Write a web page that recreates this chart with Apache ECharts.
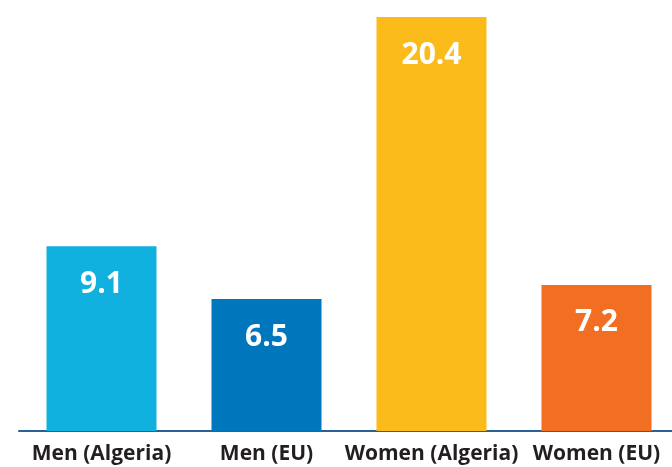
<!DOCTYPE html>
<html>
<head>
<meta charset="utf-8">
<script src="https://cdn.jsdelivr.net/npm/echarts@6/dist/echarts.min.js"></script>
<style>
  html, body { margin: 0; padding: 0; background: #fff; overflow: hidden; }
  #main { width: 680px; height: 467px; }
</style>
</head>
<body>
<div id="main"></div>
<script>
var categories = ['Men (Algeria)', 'Men (EU)', 'Women (Algeria)', 'Women (EU)'];
var values = [9.1, 6.5, 20.4, 7.2];
var colors = ['#10b0df', '#0077bd', '#fbbc1b', '#f26e22'];

var myChart = echarts.init(document.getElementById('main'));

var option = {
  animation: false,
  grid: { left: 19, right: 1, top: 17, bottom: 36, containLabel: false },
  xAxis: {
    type: 'category',
    data: categories,
    axisTick: { show: false },
    axisLine: { lineStyle: { color: '#2a6296', width: 2 } },
    axisLabel: {
      color: '#231f20',
      fontFamily: 'Open Sans',
      fontWeight: 'bold',
      fontSize: 21,
      margin: 13,
      interval: 0
    }
  },
  yAxis: {
    type: 'value',
    min: 0,
    max: 20.4,
    show: false,
    splitLine: { show: false }
  },
  series: [{
    type: 'bar',
    barWidth: 110,
    data: values.map(function (v, i) {
      return { value: v, itemStyle: { color: colors[i] } };
    }),
    label: {
      show: true,
      position: 'insideTop',
      distance: 23,
      color: '#fff',
      fontFamily: 'Open Sans',
      fontWeight: 'bold',
      fontSize: 30
    }
  }]
};

myChart.setOption(option);
</script>
</body>
</html>
